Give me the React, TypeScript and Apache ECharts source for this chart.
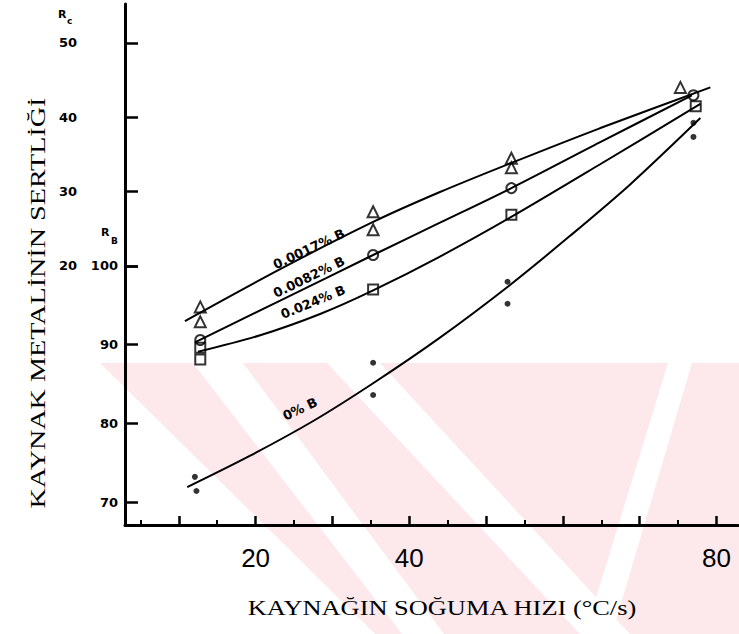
import React, { useEffect, useRef } from "react";
import * as echarts from "echarts";

// ---- axis ticks / labels ----
const xTickMajor = [10, 20, 30, 40, 50, 60, 70, 80];
const xTickMinor = [5, 15, 25, 35, 45, 55, 65, 75];
const xLabels = [20, 40, 80];
const rbTicks = [70, 80, 90, 100];
const rcTicks = [20, 30, 40, 50];

// ---- measured points (x: °C/s, y: hardness on R_B scale) ----
const triX = [12.8, 12.8, 35.3, 35.3, 53.3, 53.3, 75.3];
const triY = [94.8, 92.9, 106.9, 104.6, 113.7, 112.5, 122.7];
const circX = [12.8, 35.3, 53.3, 77.0];
const circY = [90.6, 101.4, 109.9, 121.7];
const sqX = [12.8, 12.8, 35.3, 53.3, 77.3];
const sqY = [89.6, 88.1, 97.0, 106.5, 120.3];
const dotX = [12.1, 12.3, 35.3, 35.3, 52.8, 52.8, 77.0, 77.0];
const dotY = [73.2, 71.4, 87.7, 83.6, 98.0, 95.2, 118.2, 116.4];

// ---- fitted curves ----
const c1X = [10.8, 23.2, 35.3, 44.0, 53.3, 64.8, 79.2];
const c1Y = [93.0, 99.6, 105.6, 109.4, 113.1, 117.5, 122.7];
const c2X = [12.1, 23.2, 35.3, 44.0, 53.3, 64.8, 76.8];
const c2Y = [90.3, 95.6, 101.4, 105.5, 109.9, 115.7, 121.7];
const c3X = [12.5, 20.6, 28.4, 35.3, 44.0, 53.4, 64.8, 77.9];
const c3Y = [89.1, 91.2, 93.9, 96.9, 101.2, 106.3, 112.9, 120.6];
const c4X = [11.1, 19.3, 27.5, 35.3, 44.0, 53.0, 60.9, 68.8, 77.9];
const c4Y = [71.9, 75.9, 80.3, 85.1, 90.9, 97.5, 103.8, 110.4, 118.8];

const curveLabels = ["0.0017% B", "0.0082% B", "0.024% B", "0% B"];

const pairs = (xs: number[], ys: number[]) => xs.map((x, i) => [x, ys[i]]);

const BLACK = "#000";
const PINK = "#fde8ec";

function buildOption() {
  const lineSeries = [
    [c1X, c1Y],
    [c2X, c2Y],
    [c3X, c3Y],
    [c4X, c4Y],
  ].map(([xs, ys]) => ({
    type: "line",
    data: pairs(xs, ys),
    smooth: 0.3,
    showSymbol: false,
    symbol: "none",
    silent: true,
    lineStyle: { color: BLACK, width: 2 },
    z: 3,
  }));

  const markerStyle = { color: "rgba(255,255,255,0)", borderColor: BLACK, borderWidth: 2 };

  const scatterSeries = [
    { type: "scatter", symbol: "triangle", symbolSize: [11, 11], data: pairs(triX, triY), itemStyle: markerStyle, z: 4 },
    { type: "scatter", symbol: "circle", symbolSize: 10, data: pairs(circX, circY), itemStyle: markerStyle, z: 4 },
    { type: "scatter", symbol: "rect", symbolSize: 10, data: pairs(sqX, sqY), itemStyle: markerStyle, z: 4 },
    { type: "scatter", symbol: "circle", symbolSize: 6, data: pairs(dotX, dotY), itemStyle: { color: BLACK }, z: 4 },
  ];

  const labelFont = { fontFamily: "DejaVu Sans", fontWeight: "bold", fontSize: 13 } as any;

  const curveText = (text: string, x: number, y: number, deg: number) => ({
    type: "text",
    x,
    y,
    rotation: (deg * Math.PI) / 180,
    z: 10,
    style: {
      text,
      fill: BLACK,
      font: 'bold 13px "DejaVu Sans"',
      textAlign: "center",
      textVerticalAlign: "middle",
      align: "center",
      verticalAlign: "middle",
    },
  });

  const watermark = [
    {
      type: "polygon",
      z: -10,
      silent: true,
      shape: { points: [[100, 363], [739, 363], [739, 634], [375, 634]] },
      style: { fill: PINK },
    },
    {
      type: "polygon",
      z: -9,
      silent: true,
      shape: { points: [[193, 363], [243, 363], [444, 634], [402, 634]] },
      style: { fill: "#fff" },
    },
    {
      type: "polygon",
      z: -9,
      silent: true,
      shape: { points: [[327, 363], [380, 363], [630, 634], [580, 634]] },
      style: { fill: "#fff" },
    },
    {
      type: "polygon",
      z: -9,
      silent: true,
      shape: { points: [[585, 634], [612, 634], [692, 363], [668, 363]] },
      style: { fill: "#fff" },
    },
  ];

  return {
    animation: false,
    backgroundColor: "#fff",
    grid: {
      left: 125,
      right: 1,
      top: 4,
      bottom: 109,
      containLabel: false,
      outerBoundsMode: "none",
    },
    xAxis: [
      {
        type: "value",
        min: 3,
        max: 82.8,
        position: "bottom",
        axisLine: { show: true, onZero: false, lineStyle: { color: BLACK, width: 3 } },
        axisTick: { show: true, inside: true, length: 9, customValues: xTickMajor, lineStyle: { color: BLACK, width: 2.5 } },
        axisLabel: {
          show: true,
          customValues: xLabels,
          margin: 20,
          color: BLACK,
          fontSize: 26,
          fontFamily: '"Liberation Sans Narrow", "Liberation Sans", Arial, sans-serif',
        },
        splitLine: { show: false },
      },
      {
        type: "value",
        min: 3,
        max: 82.8,
        position: "bottom",
        axisLine: { show: false, onZero: false },
        axisTick: { show: true, inside: true, length: 5, customValues: xTickMinor, lineStyle: { color: BLACK, width: 2 } },
        axisLabel: { show: false },
        splitLine: { show: false },
      },
    ],
    yAxis: [
      {
        type: "value",
        min: 67.08,
        max: 133.3,
        position: "left",
        axisLine: { show: true, onZero: false, lineStyle: { color: BLACK, width: 3 } },
        axisTick: { show: true, inside: true, length: 13, customValues: rbTicks, lineStyle: { color: BLACK, width: 2.5 } },
        axisLabel: { show: true, customValues: rbTicks, margin: 7, color: BLACK, ...labelFont },
        splitLine: { show: false },
      },
      {
        type: "value",
        min: -14.9,
        max: 55.25,
        position: "left",
        axisLine: { show: false, onZero: false },
        axisTick: { show: true, inside: true, length: 13, customValues: rcTicks, lineStyle: { color: BLACK, width: 2.5 } },
        axisLabel: { show: true, customValues: rcTicks, margin: 48, color: BLACK, ...labelFont },
        splitLine: { show: false },
      },
    ],
    graphic: [
      ...watermark,
      {
        type: "text",
        x: 37,
        y: 303,
        rotation: Math.PI / 2,
        scaleX: 1.28,
        z: 10,
        style: {
          text: "KAYNAK METALİNİN SERTLİĞİ",
          fill: BLACK,
          font: '22px "Liberation Serif"',
          textAlign: "center",
          textVerticalAlign: "middle",
          align: "center",
          verticalAlign: "middle",
        },
      },
      {
        type: "text",
        x: 442,
        y: 607,
        scaleX: 1.2,
        z: 10,
        style: {
          text: "KAYNAĞIN SOĞUMA HIZI (°C/s)",
          fill: BLACK,
          font: '22px "Liberation Serif"',
          textAlign: "center",
          textVerticalAlign: "middle",
          align: "center",
          verticalAlign: "middle",
        },
      },
      { type: "text", x: 58, y: 9, z: 10, style: { text: "R", fill: BLACK, font: 'bold 11px "DejaVu Sans"' } },
      { type: "text", x: 67, y: 16, z: 10, style: { text: "c", fill: BLACK, font: 'bold 9px "DejaVu Sans"' } },
      { type: "text", x: 101, y: 227, z: 10, style: { text: "R", fill: BLACK, font: 'bold 11px "DejaVu Sans"' } },
      { type: "text", x: 111, y: 236, z: 10, style: { text: "B", fill: BLACK, font: 'bold 9px "DejaVu Sans"' } },
      curveText(curveLabels[0], 309, 249, 25),
      curveText(curveLabels[1], 309, 277, 26),
      curveText(curveLabels[2], 313, 302, 22),
      curveText(curveLabels[3], 300, 409, 25),
    ],
    series: [...lineSeries, ...scatterSeries],
  };
}

export default function App() {
  const ref = useRef<HTMLDivElement>(null);
  useEffect(() => {
    if (!ref.current) return;
    const chart = echarts.init(ref.current, null, { renderer: "svg" });
    chart.setOption(buildOption() as any);
    return () => chart.dispose();
  }, []);
  return (
    <div
      ref={ref}
      style={{ position: "absolute", left: 0, top: 0, width: 739, height: 634, background: "#fff" }}
    />
  );
}
